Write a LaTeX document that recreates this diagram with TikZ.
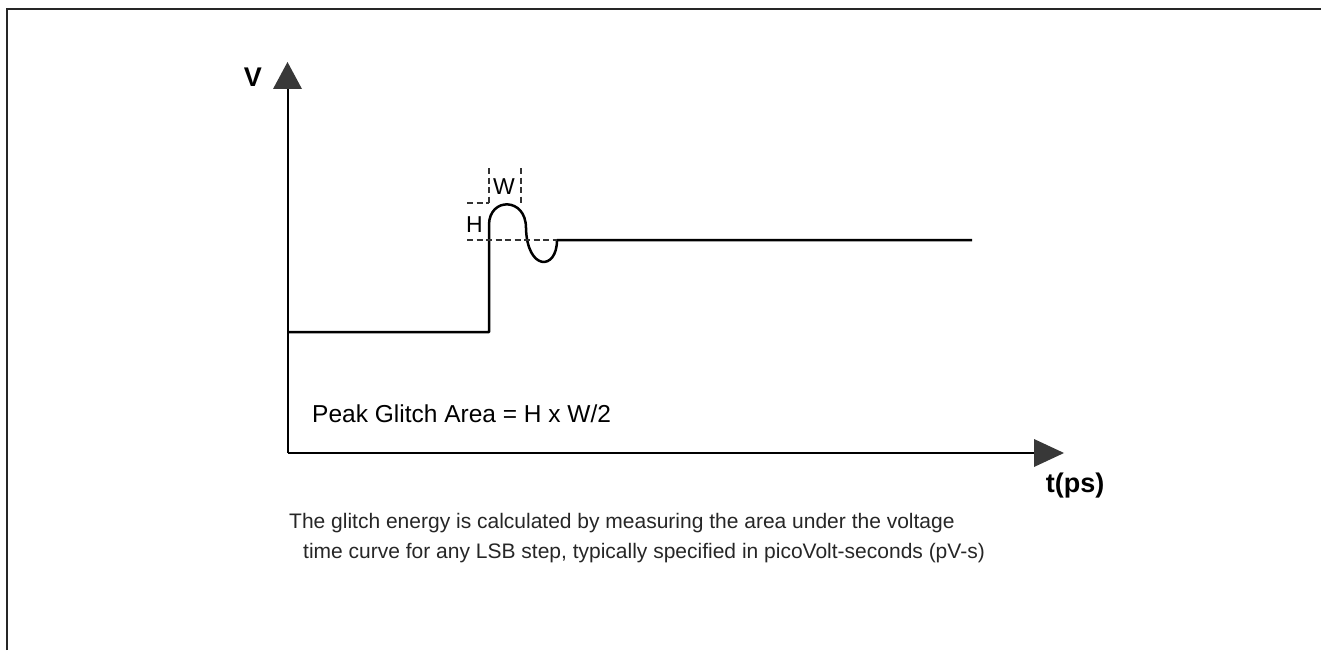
\documentclass[tikz,border=0pt]{standalone}
\usepackage{fontspec}
\setmainfont{Liberation Sans}
\tikzset{
  frameline/.style={line width=2pt, draw=black!85},
  axisline/.style={line width=2.4pt, draw=black},
  signal/.style={line width=2.5pt, draw=black, line join=round},
  guide/.style={line width=1.2pt, draw=black!80, dash pattern=on 6pt off 3.5pt},
  arrowhead/.style={fill=black!78, draw=none},
  lbl/.style={inner sep=0pt, font=\fontsize{23}{27}\selectfont},
  axlbl/.style={inner sep=0pt, font=\fontsize{27}{31}\selectfont\bfseries},
  note/.style={inner sep=0pt, anchor=west, font=\fontsize{21}{25}\selectfont, text=black!85}
}
\begin{document}
\begin{tikzpicture}[x=1pt,y=-1pt]
\useasboundingbox (0,0) rectangle (1321,650);
% frame (top and left edges)
\coordinate (fbl) at (7,650);
\coordinate (ftl) at (7,9);
\coordinate (ftr) at (1321,9);
\draw[frameline] (fbl) -- (ftl) -- (ftr);
% axes
\coordinate (o) at (288,453);
\coordinate (yend) at (288,88);
\coordinate (xend) at (1035,453);
\draw[axisline] (o) -- (yend);
\draw[axisline] (o) -- (xend);
\fill[arrowhead] (287.5,62) -- (302,89) -- (273,89) -- cycle;
\fill[arrowhead] (1064,453) -- (1034,439) -- (1034,467) -- cycle;
\node[axlbl] (vl) at (253,77) {V};
\node[axlbl] (tl) at (1075,486) {t(ps)};
% signal
\coordinate (s0) at (289,332);
\coordinate (s1) at (489,332);
\coordinate (s2) at (489,225);
\coordinate (s3) at (526,228);
\coordinate (s4) at (557,240);
\coordinate (s5) at (972,240);
\draw[signal] (s0) -- (s1) -- (s2) .. controls (489,197) and (526,197) .. (s3)
   .. controls (527,271) and (557,271) .. (s4) -- (s5);
% guides
\coordinate (g1) at (467,240);
\coordinate (g2) at (557,240);
\coordinate (g3) at (467,203);
\coordinate (g4) at (489,203);
\coordinate (g5) at (489,168);
\coordinate (g6) at (521,168);
\coordinate (g7) at (521,203);
\draw[guide] (g1) -- (g2);
\draw[guide] (g3) -- (g4);
\draw[guide] (g5) -- (g4);
\draw[guide] (g6) -- (g7);
\node[lbl] (hl) at (474.5,225) {H};
\node[lbl] (wl) at (504,186.5) {W};
% texts
\node[inner sep=0pt, anchor=west, font=\fontsize{24.5}{29}\selectfont] (peak) at (312,414) {Peak Glitch Area = H x W/2};
\node[note] (n1) at (289,523) {The glitch energy is calculated by measuring the area under the voltage};
\node[note] (n2) at (303,553) {time curve for any LSB step, typically specified in picoVolt-seconds (pV-s)};
\end{tikzpicture}
\end{document}
